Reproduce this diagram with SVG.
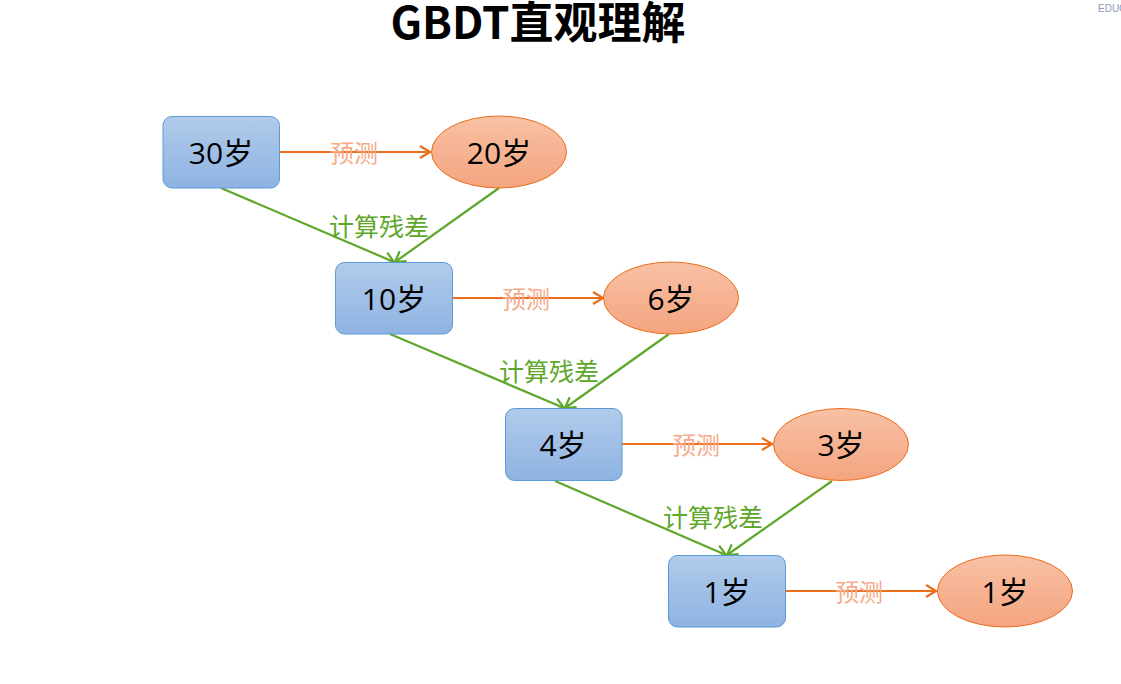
<svg xmlns="http://www.w3.org/2000/svg" width="1121" height="684" viewBox="0 0 1121 684">
<defs>
<linearGradient id="gBlue" x1="0" y1="0" x2="0" y2="1">
<stop offset="0" stop-color="#b1cbeb"/>
<stop offset="1" stop-color="#8eb3e2"/>
</linearGradient>
<linearGradient id="gOrange" x1="0" y1="0" x2="0" y2="1">
<stop offset="0" stop-color="#f8c1a5"/>
<stop offset="1" stop-color="#f4a47f"/>
</linearGradient>
<marker id="arrO" markerUnits="userSpaceOnUse" markerWidth="14" markerHeight="16" refX="11" refY="7" orient="auto" overflow="visible">
<path d="M1,1 L11,7 L1,13" fill="none" stroke="#ec6d1a" stroke-width="2.2"/>
</marker>
<marker id="arrG" markerUnits="userSpaceOnUse" markerWidth="14" markerHeight="16" refX="11" refY="7" orient="auto" overflow="visible">
<path d="M1,1 L11,7 L1,13" fill="none" stroke="#5ea72a" stroke-width="2.2"/>
</marker>
</defs>
<style>
.box{fill:url(#gBlue);stroke:#5b9bd5;stroke-width:1}
.ell{fill:url(#gOrange);stroke:#ec6d1a;stroke-width:1}
.lbl{font-family:"Open Sans","Noto Sans CJK SC",sans-serif;font-size:30px;fill:#000;text-anchor:middle;dominant-baseline:central}
.pred{stroke:#ec6d1a;stroke-width:2.2;fill:none}
.res{stroke:#5ea72a;stroke-width:2.2;fill:none}
.tp{font-family:"Noto Sans CJK SC",sans-serif;font-size:24px;fill:#f5ab8a;text-anchor:middle;dominant-baseline:central}
.tr{font-family:"Noto Sans CJK SC",sans-serif;font-size:25px;fill:#5ea72a;text-anchor:middle;dominant-baseline:central}
</style>
<rect width="1121" height="684" fill="#ffffff"/>
<text x="538" y="39" font-family="Noto Sans CJK SC, sans-serif" font-weight="bold" font-size="44" text-anchor="middle" fill="#000">GBDT直观理解</text>
<text x="1098" y="12" font-family="Liberation Sans, sans-serif" font-size="10" fill="#8a9bb5">EDUC</text>

<g id="connectors">
<line class="pred" x1="280" y1="152" x2="430" y2="152" marker-end="url(#arrO)"/>
<line class="pred" x1="453" y1="298" x2="603" y2="298" marker-end="url(#arrO)"/>
<line class="pred" x1="622" y1="444" x2="772" y2="444" marker-end="url(#arrO)"/>
<line class="pred" x1="786" y1="591" x2="936" y2="591" marker-end="url(#arrO)"/>
<line class="res" x1="221" y1="188" x2="394" y2="262" marker-end="url(#arrG)"/>
<line class="res" x1="499" y1="188" x2="395" y2="262" marker-end="url(#arrG)"/>
<line class="res" x1="390" y1="334" x2="564" y2="408" marker-end="url(#arrG)"/>
<line class="res" x1="669" y1="334" x2="565" y2="408" marker-end="url(#arrG)"/>
<line class="res" x1="555" y1="481" x2="726" y2="555" marker-end="url(#arrG)"/>
<line class="res" x1="832" y1="481" x2="727" y2="555" marker-end="url(#arrG)"/>
<text class="tp" x="354" y="151">预测</text>
<text class="tp" x="526" y="297">预测</text>
<text class="tp" x="696" y="443">预测</text>
<text class="tp" x="859" y="590">预测</text>
<text class="tr" x="379" y="225">计算残差</text>
<text class="tr" x="549" y="370">计算残差</text>
<text class="tr" x="713" y="516">计算残差</text>
</g>

<g id="n1"><rect class="box" x="163" y="116.5" width="116.5" height="71.5" rx="9"/><text class="lbl" x="221" y="152">30岁</text></g>
<g id="p1"><ellipse class="ell" cx="499" cy="152" rx="67.5" ry="36"/><text class="lbl" x="499" y="152">20岁</text></g>
<g id="n2"><rect class="box" x="335.5" y="262.5" width="117" height="71.5" rx="9"/><text class="lbl" x="394" y="298">10岁</text></g>
<g id="p2"><ellipse class="ell" cx="671" cy="298" rx="67.5" ry="36"/><text class="lbl" x="671" y="298">6岁</text></g>
<g id="n3"><rect class="box" x="505.5" y="408.5" width="116.5" height="72" rx="9"/><text class="lbl" x="563" y="444">4岁</text></g>
<g id="p3"><ellipse class="ell" cx="841" cy="444.5" rx="67.5" ry="36"/><text class="lbl" x="841" y="444">3岁</text></g>
<g id="n4"><rect class="box" x="668.5" y="555.5" width="117" height="71.5" rx="9"/><text class="lbl" x="727" y="591">1岁</text></g>
<g id="p4"><ellipse class="ell" cx="1005" cy="591" rx="67.5" ry="36"/><text class="lbl" x="1005" y="591">1岁</text></g>
</svg>
